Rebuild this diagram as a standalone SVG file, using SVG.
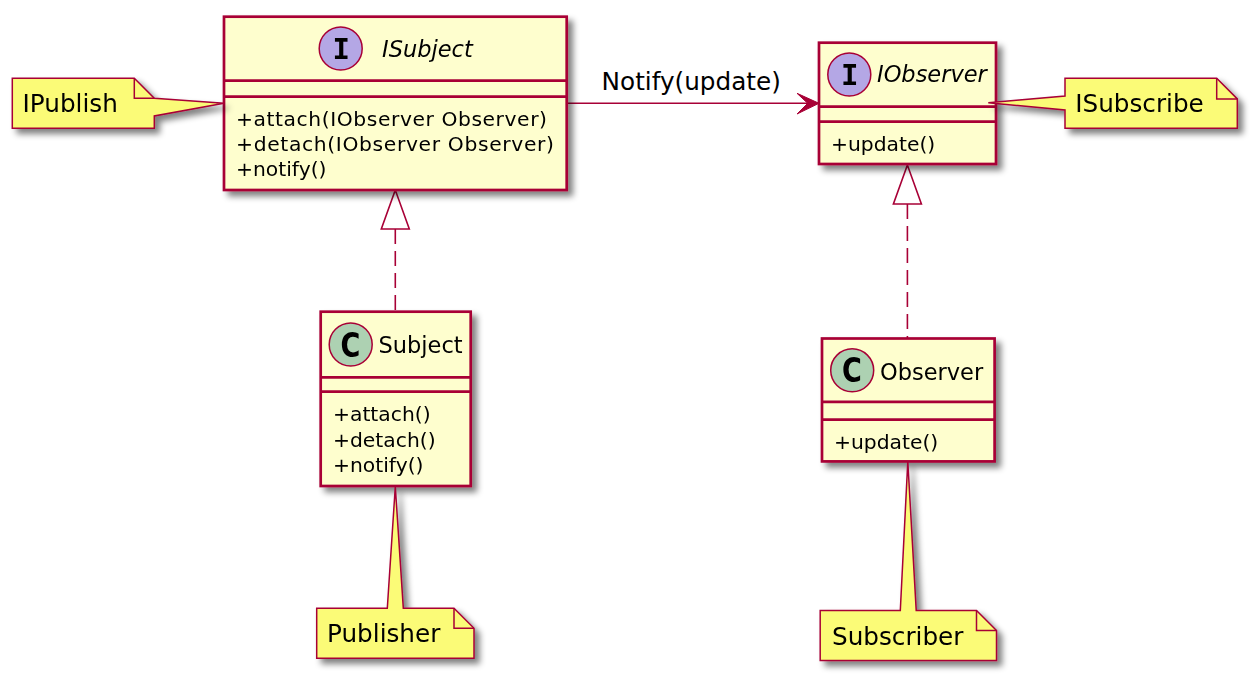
<svg xmlns="http://www.w3.org/2000/svg" width="1259" height="680" viewBox="0 0 1259 680">
<defs>
<filter id="sh" x="-20%" y="-20%" width="150%" height="150%">
<feGaussianBlur in="SourceAlpha" stdDeviation="3"/>
<feOffset dx="5" dy="5" result="b"/>
<feComponentTransfer in="b" result="c"><feFuncA type="linear" slope="0.5"/></feComponentTransfer>
<feMerge><feMergeNode in="c"/><feMergeNode in="SourceGraphic"/></feMerge>
</filter>
<style>
.box{fill:#FEFECE;stroke:#A80036;stroke-width:2.7}
.sep{stroke:#A80036;stroke-width:2.7}
.note{fill:#FBFB77;stroke:#A80036;stroke-width:1.5;stroke-linejoin:miter}
.fold{fill:none;stroke:#A80036;stroke-width:1.5}
.ic{fill:#B4A7E5;stroke:#A80036;stroke-width:1.5}
.cc{fill:#ADD1B2;stroke:#A80036;stroke-width:1.5}
.title{font-family:"DejaVu Sans",sans-serif;font-size:22.5px;fill:#000}
.it{font-style:italic}
.mem{font-family:"DejaVu Sans",sans-serif;font-size:20.3px;fill:#000}
.nt{font-family:"DejaVu Sans",sans-serif;font-size:24.7px;fill:#000}
.glyphI{font-family:"DejaVu Sans Mono",monospace;font-weight:bold;font-size:29px;fill:#000}
.glyphC{font-family:"DejaVu Sans",sans-serif;font-weight:bold;font-size:33px;fill:#000}
.line{stroke:#A80036;stroke-width:1.6;fill:none}
.dash{stroke:#A80036;stroke-width:1.6;fill:none;stroke-dasharray:15 7}
.tri{fill:#FFFFFF;stroke:#A80036;stroke-width:1.6}
.head{fill:#A80036;stroke:#A80036;stroke-width:1}
</style>
</defs>
<rect width="1259" height="680" fill="#FFFFFF"/>

<g id="connectors">
<path class="line" d="M566.7,103.3 L809,103.3"/>
<polygon class="head" points="819,103.3 797,93.3 807.7,103.3 797,114"/>
<text class="nt" x="601.6" y="90">Notify(update)</text>
<path class="dash" d="M395.3,229 L395.3,311"/>
<polygon class="tri" points="395.3,190 381.3,229 409.3,229"/>
<path class="dash" d="M907.4,204 L907.4,338"/>
<polygon class="tri" points="907.4,165 893.4,204 921.4,204"/>
</g>

<g id="ISubject" filter="url(#sh)">
<rect class="box" x="224" y="16.7" width="342.7" height="173.3"/>
<line class="sep" x1="224" y1="80.7" x2="566.7" y2="80.7"/>
<line class="sep" x1="224" y1="96.7" x2="566.7" y2="96.7"/>
<circle class="ic" cx="340.7" cy="48.5" r="21.5"/>
<text class="glyphI" x="341.2" y="59" text-anchor="middle">I</text>
<text class="title it" x="382" y="56.7">ISubject</text>
<text class="mem" x="236" y="126.2" textLength="311" lengthAdjust="spacing">+attach(IObserver Observer)</text>
<text class="mem" x="236" y="151" textLength="318" lengthAdjust="spacing">+detach(IObserver Observer)</text>
<text class="mem" x="236" y="175.8">+notify()</text>
</g>

<g id="IObserver" filter="url(#sh)">
<rect class="box" x="819" y="42.7" width="177" height="121.3"/>
<line class="sep" x1="819" y1="106.7" x2="996" y2="106.7"/>
<line class="sep" x1="819" y1="121.7" x2="996" y2="121.7"/>
<circle class="ic" cx="849.3" cy="74.5" r="21.5"/>
<text class="glyphI" x="849.8" y="85" text-anchor="middle">I</text>
<text class="title it" x="877" y="82.3">IObserver</text>
<text class="mem" x="831" y="150.7">+update()</text>
</g>

<g id="Subject" filter="url(#sh)">
<rect class="box" x="320.7" y="311.7" width="150" height="174.3"/>
<line class="sep" x1="320.7" y1="377.3" x2="470.7" y2="377.3"/>
<line class="sep" x1="320.7" y1="391.7" x2="470.7" y2="391.7"/>
<circle class="cc" cx="350.7" cy="344.5" r="21.5"/>
<text class="glyphC" transform="translate(350.5,356.5) scale(0.82,1)" text-anchor="middle">C</text>
<text class="title" x="378.5" y="353.3">Subject</text>
<text class="mem" x="333" y="421.2">+attach()</text>
<text class="mem" x="333" y="446.5">+detach()</text>
<text class="mem" x="333" y="471.7">+notify()</text>
</g>

<g id="Observer" filter="url(#sh)">
<rect class="box" x="822" y="338.5" width="172.6" height="122.9"/>
<line class="sep" x1="822" y1="401.8" x2="994.6" y2="401.8"/>
<line class="sep" x1="822" y1="419.7" x2="994.6" y2="419.7"/>
<circle class="cc" cx="852.2" cy="370.3" r="21.5"/>
<text class="glyphC" transform="translate(852,382.3) scale(0.82,1)" text-anchor="middle">C</text>
<text class="title" x="880" y="379.5">Observer</text>
<text class="mem" x="834" y="449.2">+update()</text>
</g>

<g id="note-IPublish" filter="url(#sh)">
<path class="note" d="M12.3,78.3 L134.3,78.3 L154.3,98.3 L224,103.3 L154.3,116 L154.3,128.3 L12.3,128.3 Z"/>
<path class="fold" d="M134.3,78.3 L134.3,98.3 L154.3,98.3"/>
<text class="nt" x="22.5" y="112.3">IPublish</text>
</g>

<g id="note-ISubscribe" filter="url(#sh)">
<path class="note" d="M1065,78.3 L1216.7,78.3 L1237.3,98.9 L1237.3,128.3 L1065,128.3 L1065,110 L988.3,102.7 L1065,96 Z"/>
<path class="fold" d="M1216.7,78.3 L1216.7,98.9 L1237.3,98.9"/>
<text class="nt" x="1075.2" y="112.3">ISubscribe</text>
</g>

<g id="note-Publisher" filter="url(#sh)">
<path class="note" d="M316.7,608.3 L387.3,608.3 L395.3,486.7 L403.3,608.3 L454,608.3 L474,628.3 L474,658.3 L316.7,658.3 Z"/>
<path class="fold" d="M454,608.3 L454,628.3 L474,628.3"/>
<text class="nt" x="327" y="642.3">Publisher</text>
</g>

<g id="note-Subscriber" filter="url(#sh)">
<path class="note" d="M820.2,610.5 L900.3,610.5 L907.8,461.5 L916.2,610.5 L976.5,610.5 L996.5,630.5 L996.5,660.5 L820.2,660.5 Z"/>
<path class="fold" d="M976.5,610.5 L976.5,630.5 L996.5,630.5"/>
<text class="nt" x="832" y="645">Subscriber</text>
</g>
</svg>
